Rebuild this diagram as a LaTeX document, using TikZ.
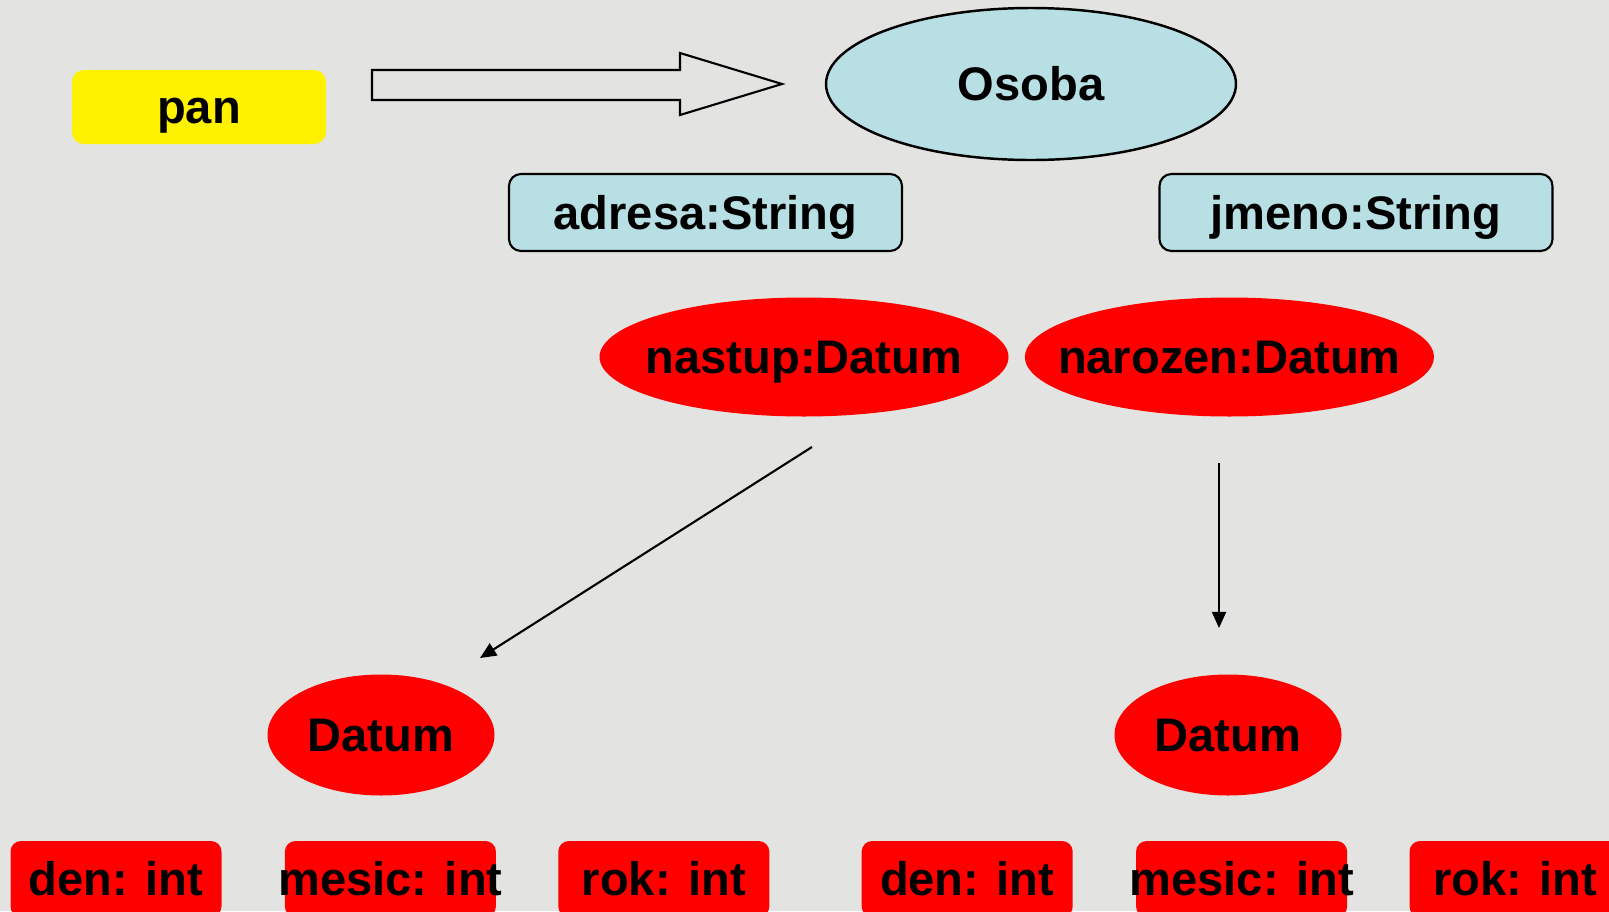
\documentclass[tikz,border=0pt]{standalone}
\usepackage{fontspec}
\setmainfont{Liberation Sans}
\usetikzlibrary{shapes.geometric, arrows, arrows.meta, positioning}
\definecolor{paper}{RGB}{227,227,225}
\definecolor{classblue}{RGB}{184,223,227}
\newcommand{\lbl}[1]{\makebox[0pt]{\fontsize{13.4}{16}\selectfont\bfseries\rule[-4.8pt]{0pt}{19.2pt}#1}}
\tikzstyle{var} = [rectangle, rounded corners=3.4pt, minimum width=25.4mm, minimum height=7.4mm, inner sep=0pt, fill=yellow]
\tikzstyle{class} = [ellipse, minimum width=41mm, minimum height=15.2mm, inner sep=0pt, draw=black, line width=0.7pt, fill=classblue]
\tikzstyle{attr} = [rectangle, rounded corners=3.4pt, minimum width=39.3mm, minimum height=7.7mm, inner sep=0pt, draw=black, line width=0.6pt, fill=classblue]
\tikzstyle{ref} = [ellipse, minimum width=40.9mm, minimum height=11.9mm, inner sep=0pt, fill=red]
\tikzstyle{obj} = [ellipse, minimum width=22.7mm, minimum height=12.1mm, inner sep=0pt, fill=red]
\tikzstyle{field} = [rectangle, rounded corners=3pt, minimum width=21.1mm, minimum height=7.6mm, inner sep=0pt, fill=red]
\tikzstyle{arrow} = [line width=0.6pt,-{Triangle[length=4.6pt,width=4pt]}]

\begin{document}
\begin{tikzpicture}[x=0.1mm, y=-0.1mm]
\clip (0,0) rectangle (1609,911);
\fill [paper] (0,0) rectangle (1609,911);
\node (pan) [var] at (199,107) {\lbl{pan}};
\node (osoba) [class] at (1031,84) {\lbl{Osoba}};
\draw [line width=0.6pt] (372,70) -- (680,70) -- (680,53) -- (782,84) -- (680,115) -- (680,100) -- (372,100) -- cycle;
\node (adresa) [attr] at (705.5,212.5) {\lbl{adresa:String}};
\node (jmeno) [attr] at (1356,212.5) {\lbl{jmeno:String}};
\node (nastup) [ref] at (804,357) {\lbl{nastup:Datum}};
\node (narozen) [ref, right=1.5mm of nastup] {\lbl{narozen:Datum}};
\node (datum1) [obj] at (381,735) {\lbl{Datum}};
\node (datum2) [obj] at (1228,735) {\lbl{Datum}};
\node (den1) [field] at (116,879) {\lbl{den: int}};
\node (mesic1) [field, right=6.2mm of den1] {\lbl{mesic: int}};
\node (rok1) [field, right=6.1mm of mesic1] {\lbl{rok: int}};
\node (den2) [field, right=9.1mm of rok1] {\lbl{den: int}};
\node (mesic2) [field, right=6.2mm of den2] {\lbl{mesic: int}};
\node (rok2) [field, right=6.1mm of mesic2] {\lbl{rok: int}};
\coordinate (from1) at (812,447);
\coordinate (to1) at (480,658);
\coordinate (from2) at (1219,463);
\coordinate (to2) at (1219,628);
\draw [arrow] (from1) -- (to1);
\draw [arrow] (from2) -- (to2);
\end{tikzpicture}
\end{document}
